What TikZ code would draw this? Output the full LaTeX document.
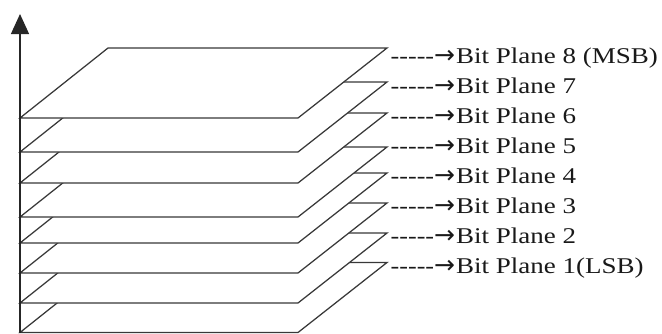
\documentclass[tikz,border=0pt]{standalone}
\usepackage{fontspec}
\newfontfamily\dashfont[FakeStretch=1.16]{Liberation Serif}
\newfontfamily\labfont[FakeStretch=1.2]{Liberation Serif}
\newfontfamily\arrfont{DejaVu Sans}
\newcommand{\lead}{{\dashfont -----}{\arrfont\fontsize{25}{27}\selectfont →}\hspace{1pt}}
\usetikzlibrary{arrows.meta}
\begin{document}
\begin{tikzpicture}[x=1pt,y=-1pt,
  plane/.style={draw=black!78,fill=white,line width=1.25pt,line join=miter},
  lab/.style={anchor=base west,inner sep=0pt,text=black!90,
    font={\labfont\fontsize{22.5}{27}\selectfont}},
  axis/.style={draw=black!85,line width=1.3pt,-{Triangle[width=18pt,length=20pt]}}]
\useasboundingbox (0,0) rectangle (662,333);
% planes, bottom (bit 1) to top (bit 8)
\foreach \b in {262.5,233,203,173,147,113,82,48}{
  \path[plane] (20,\b+70) -- (298,\b+70) -- (387,\b) -- (108,\b) -- cycle;
}
% axis
\coordinate (a0) at (20,333);
\coordinate (a1) at (20,14);
\draw[axis] (a0) -- (a1);
% labels
\node[lab] (l8) at (390.5,63)  {\lead Bit Plane 8 (MSB)};
\node[lab] (l7) at (390.5,93)  {\lead Bit Plane 7};
\node[lab] (l6) at (390.5,123) {\lead Bit Plane 6};
\node[lab] (l5) at (390.5,153) {\lead Bit Plane 5};
\node[lab] (l4) at (390.5,183) {\lead Bit Plane 4};
\node[lab] (l3) at (390.5,213) {\lead Bit Plane 3};
\node[lab] (l2) at (390.5,243) {\lead Bit Plane 2};
\node[lab] (l1) at (390.5,273) {\lead Bit Plane 1(LSB)};
\end{tikzpicture}
\end{document}
